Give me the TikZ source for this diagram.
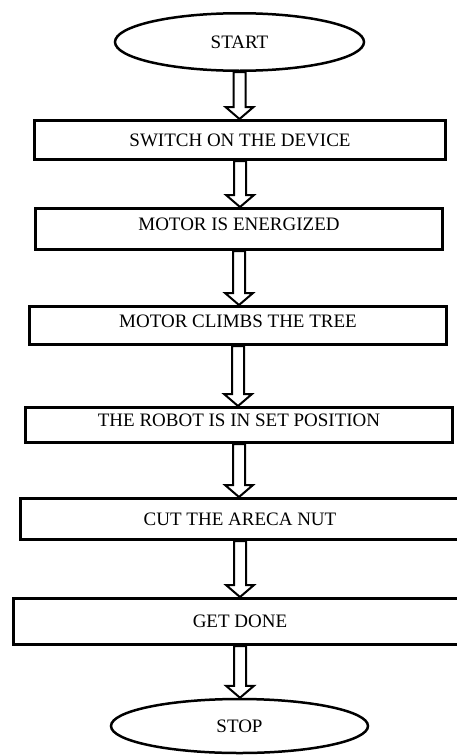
\documentclass[tikz,border=0pt]{standalone}
\usepackage{fontspec}
\setmainfont{Liberation Serif}
\usetikzlibrary{shapes.geometric,calc}

\tikzset{
  flowfont/.style={font=\fontsize{19}{23}\selectfont, text height=12.6pt, text depth=0pt},
  terminal/.style={ellipse, draw, line width=2.5pt, inner sep=0pt, flowfont},
  stepbox/.style={rectangle, draw, line width=3pt, inner sep=0pt, flowfont},
  raisedtext/.style={text depth=9pt},
  flow/.style={draw, line width=2pt, fill=white, line join=miter}
}

% hollow block arrow from the bottom of one node to the top of the next
\newcommand\flowarrow[2]{%
  \draw[flow] let \p1=(#1.south), \p2=(#2.north) in
    (\x1-6pt,\y1) -- (\x1-6pt,\y2+12pt) -- (\x1-14pt,\y2+12pt) -- (\x1,\y2)
    -- (\x1+14pt,\y2+12pt) -- (\x1+6pt,\y2+12pt) -- (\x1+6pt,\y1) -- cycle;}

\begin{document}
\begin{tikzpicture}[x=1pt,y=-1pt]
  \useasboundingbox (0,0) rectangle (456,755);

  \node[terminal, minimum width=249pt, minimum height=57.5pt] (start) at (239.5,42) {START};
  \node[stepbox, minimum width=411pt, minimum height=39pt] (s1) at (240,140) {SWITCH ON THE DEVICE};
  \node[stepbox, raisedtext, minimum width=407pt, minimum height=41pt] (s2) at (239,229) {MOTOR IS ENERGIZED};
  \node[stepbox, raisedtext, minimum width=417pt, minimum height=38pt] (s3) at (238,325.5) {MOTOR CLIMBS THE TREE};
  \node[stepbox, raisedtext, minimum width=427pt, minimum height=35pt] (s4) at (239,425) {THE ROBOT IS IN SET POSITION};
  \node[stepbox, minimum width=439pt, minimum height=41pt] (s5) at (240,519) {CUT THE ARECA NUT};
  \node[stepbox, minimum width=453pt, minimum height=46pt] (s6) at (240,621.5) {GET DONE};
  \node[terminal, minimum width=257pt, minimum height=54pt] (stop) at (239.5,726) {STOP};

  \flowarrow{start}{s1}
  \flowarrow{s1}{s2}
  \flowarrow{s2}{s3}
  \flowarrow{s3}{s4}
  \flowarrow{s4}{s5}
  \flowarrow{s5}{s6}
  \flowarrow{s6}{stop}
\end{tikzpicture}
\end{document}
